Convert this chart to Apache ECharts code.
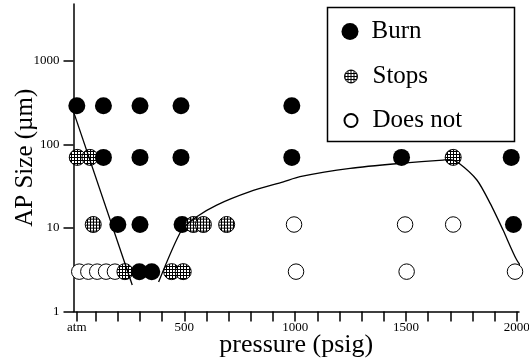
<!DOCTYPE html>
<html><head><meta charset="utf-8">
<script src="https://cdn.jsdelivr.net/npm/echarts@6/dist/echarts.min.js"></script>
<style>html,body{margin:0;padding:0;background:#fff}#c{width:529px;height:364px}</style>
</head><body><div id="c"></div>
<script>
// ---- data (pressure in psi, AP size in µm) ----
const xTickValues = [14.7, 100, 200, 300, 400, 500, 600, 700, 800, 900, 1000, 1100, 1200, 1300, 1400, 1500, 1600, 1700, 1800, 1900, 2000];
const xLabelValues = [14.7, 500, 1000, 1500, 2000];
const yTickValues = [1, 10, 100, 1000];

const burn = [
  [15, 290], [135, 290], [300, 290], [485, 290], [985, 290],
  [135, 70], [300, 70], [485, 70], [985, 70], [1480, 70], [1975, 70],
  [200, 11], [300, 11], [490, 11], [1985, 11],
  [297, 3], [353, 3]
];
const stopsBack = [
  [17, 70], [74, 70], [1713, 70],
  [89, 11],
  [232, 3], [443, 3], [495, 3]
];
const stopsFront = [
  [541, 11], [586, 11], [691, 11]
];
const doesNot = [
  [995, 11], [1496, 11], [1713, 11],
  [26, 3], [67, 3], [107, 3], [147, 3], [187, 3], [1004, 3], [1503, 3], [1992, 3]
];
const boundaryLeft = [[0, 247], [265, 2.08]];
const boundaryRight = [
  [384, 2.25], [488, 9.45], [556, 13.6], [646, 18.8], [796, 27.2], [947, 35.7],
  [1022, 41.2], [1248, 51.7], [1473, 59.3], [1667, 65], [1699, 65.9], [1735, 60.7],
  [1820, 37.5], [1880, 19.7], [1938, 9.45], [2000, 4.13], [2045, 2.87]
];

// ---- hatch patterns ----
function makeHatch(cell, line) {
  const c = document.createElement('canvas');
  c.width = cell; c.height = cell;
  const g = c.getContext('2d');
  g.fillStyle = '#fff'; g.fillRect(0, 0, cell, cell);
  g.fillStyle = '#000'; g.fillRect(0, 0, cell, line); g.fillRect(0, 0, line, cell);
  return c;
}
// scatter symbols are drawn in a unit space scaled by symbolSize/2 (=8), so compensate
const hatchSymbol = { image: makeHatch(24, 8), repeat: 'repeat', scaleX: 1 / 64, scaleY: 1 / 64 };
const hatchLegend = { image: makeHatch(3, 1), repeat: 'repeat' };

const serif = 'Liberation Serif';
const chart = echarts.init(document.getElementById('c'), null, { renderer: 'canvas' });
const stopsStyle = { color: hatchSymbol, borderColor: '#000', borderWidth: 1, opacity: 1 };
const lineStyle = { color: '#000', width: 1.3 };

chart.setOption({
  animation: false,
  backgroundColor: '#fff',
  grid: { left: 73.5, right: 10, top: 4, bottom: 52.5, containLabel: false, outerBoundsMode: 'none' },
  xAxis: {
    type: 'value', min: 0, max: 2010,
    splitLine: { show: false },
    axisLine: { lineStyle: { color: '#000', width: 1.5 } },
    axisTick: { customValues: xTickValues, length: 10, lineStyle: { color: '#000', width: 1.5 } },
    axisLabel: {
      customValues: xLabelValues, margin: 10,
      formatter: v => (v < 50 ? 'atm' : String(v)),
      fontFamily: serif, fontSize: 13, color: '#000'
    },
    name: 'pressure (psig)', nameLocation: 'middle', nameGap: 20.5, nameMoveOverlap: false,
    nameTextStyle: { fontFamily: serif, fontSize: 26, color: '#000' }
  },
  yAxis: {
    type: 'log', logBase: 10, min: 1, max: 4800,
    splitLine: { show: false }, minorTick: { show: false },
    axisLine: { lineStyle: { color: '#000', width: 1.5 } },
    axisTick: { customValues: yTickValues, length: 10, lineStyle: { color: '#000', width: 1.5 } },
    axisLabel: {
      customValues: yTickValues, margin: 14,
      formatter: v => String(Math.round(v)),
      fontFamily: serif, fontSize: 13, color: '#000'
    },
    name: 'AP Size (µm)', nameLocation: 'middle', nameGap: 36, nameMoveOverlap: false,
    nameTextStyle: { fontFamily: serif, fontSize: 25, color: '#000' }
  },
  legend: [
    {
      data: [{ name: 'Burn', icon: 'circle' }], orient: 'vertical', left: 341.5, top: 19,
      itemWidth: 17, itemHeight: 17, padding: 0, selectedMode: false,
      textStyle: { fontFamily: serif, fontSize: 25, color: '#000', padding: [0, 0, 0, 8] }
    },
    {
      data: [
        { name: 'Stops', icon: 'circle', itemStyle: { color: hatchLegend, borderColor: '#000', borderWidth: 1 } },
        { name: 'Does not', icon: 'circle' }
      ],
      orient: 'vertical', left: 343.5, top: 64, itemGap: 19,
      itemWidth: 13, itemHeight: 13, padding: 0, selectedMode: false,
      textStyle: { fontFamily: serif, fontSize: 25, color: '#000', padding: [0, 0, 0, 10] }
    }
  ],
  graphic: [{
    type: 'rect', left: 325, top: 5, silent: true,
    shape: { width: 187, height: 134 },
    style: { fill: 'none', stroke: '#000', lineWidth: 1.5 }
  }],
  series: [
    { name: 'Does not', type: 'scatter', data: doesNot, symbol: 'circle', symbolSize: 15.5,
      itemStyle: { color: '#fff', borderColor: '#000', borderWidth: 1, opacity: 1 }, z: 2 },
    { name: 'Stops', type: 'scatter', data: stopsBack, symbol: 'circle', symbolSize: 16,
      itemStyle: stopsStyle, z: 2 },
    { name: 'Burn', type: 'scatter', data: burn, symbol: 'circle', symbolSize: 17,
      itemStyle: { color: '#000', opacity: 1 }, z: 2 },
    { name: 'Stops', type: 'scatter', data: stopsFront, symbol: 'circle', symbolSize: 16,
      itemStyle: stopsStyle, z: 2 },
    { name: 'boundary1', type: 'line', data: boundaryLeft, showSymbol: false, symbol: 'none',
      lineStyle: lineStyle, clip: false, silent: true, z: 5 },
    { name: 'boundary2', type: 'line', data: boundaryRight, showSymbol: false, symbol: 'none',
      smooth: 0.25, lineStyle: lineStyle, clip: false, silent: true, z: 5 }
  ]
});
</script>
</body></html>
